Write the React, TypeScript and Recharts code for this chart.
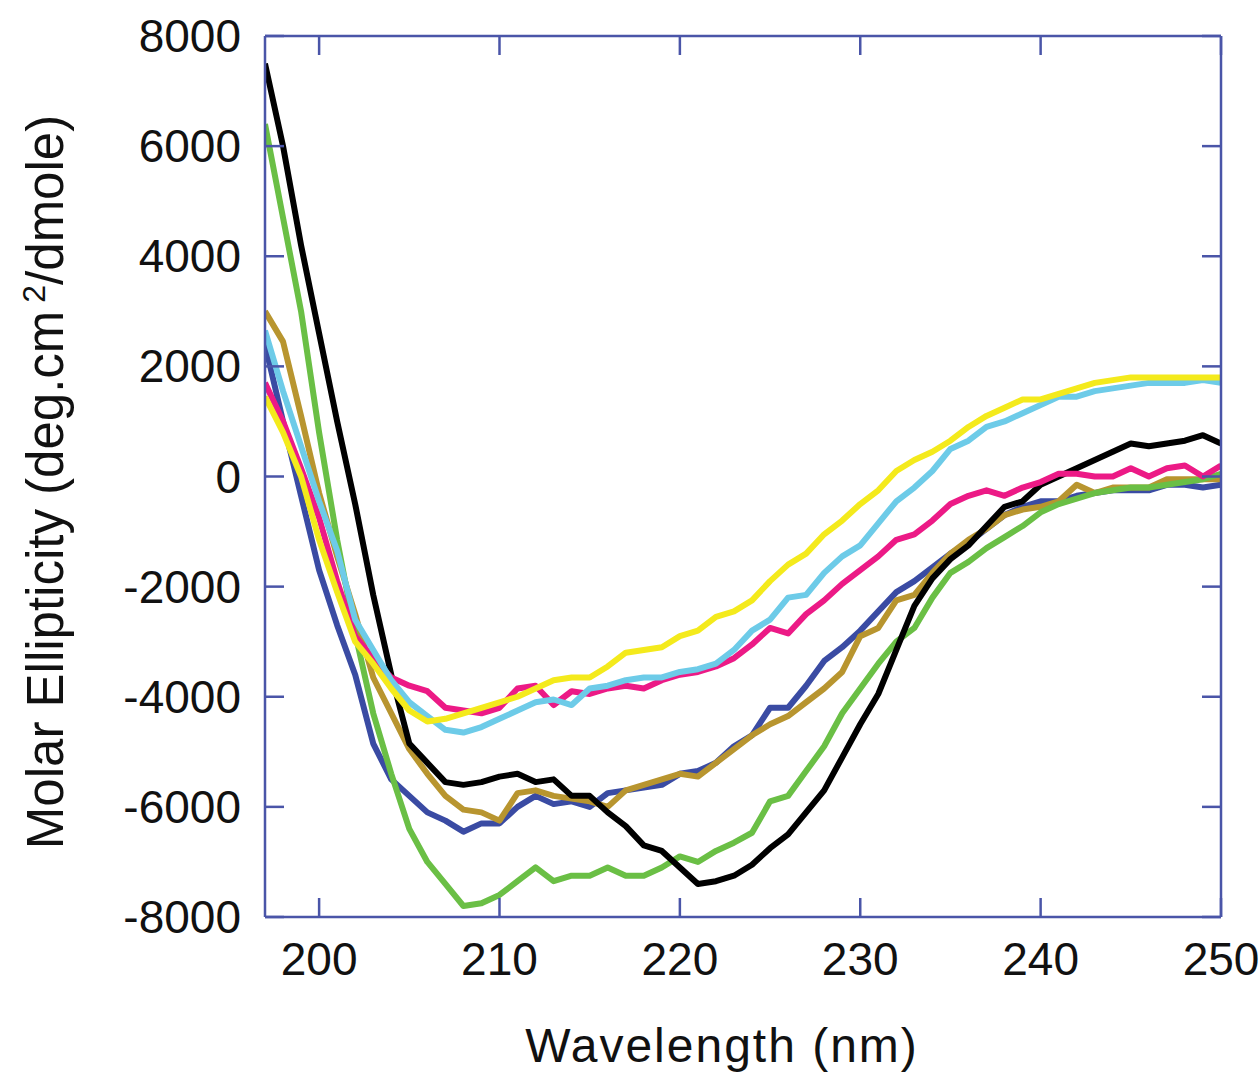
import { LineChart, Line, XAxis, YAxis } from "recharts";

const wavelengths = [
  197, 198, 199, 200, 201, 202, 203, 204, 205, 206, 207, 208, 209, 210, 211, 212, 213, 214,
  215, 216, 217, 218, 219, 220, 221, 222, 223, 224, 225, 226, 227, 228, 229, 230, 231, 232,
  233, 234, 235, 236, 237, 238, 239, 240, 241, 242, 243, 244, 245, 246, 247, 248, 249, 250,
];

const black = [
  7500, 6000, 4200, 2600, 1000, -500, -2150, -3600, -4850, -5200, -5550, -5600, -5550, -5450,
  -5400, -5550, -5500, -5800, -5800, -6100, -6350, -6700, -6800, -7100, -7400, -7350, -7250,
  -7050, -6750, -6500, -6100, -5700, -5100, -4500, -3950, -3150, -2350, -1850, -1500, -1250,
  -900, -550, -450, -150, 0, 150, 300, 450, 600, 550, 600, 650, 750, 600,
];

const green = [
  6400, 4700, 3000, 800, -1150, -2850, -4300, -5400, -6400, -7000, -7400, -7800, -7750, -7600,
  -7350, -7100, -7350, -7250, -7250, -7100, -7250, -7250, -7100, -6900, -7000, -6800, -6650,
  -6470, -5900, -5800, -5350, -4900, -4300, -3850, -3400, -3000, -2750, -2200, -1750, -1550,
  -1300, -1100, -900, -650, -500, -400, -300, -250, -200, -200, -150, -100, -50, 50,
];

const blue = [
  2400, 1000, -350, -1700, -2700, -3600, -4850, -5500, -5800, -6100, -6250, -6450, -6300, -6300,
  -6000, -5800, -5950, -5900, -6000, -5750, -5700, -5650, -5600, -5400, -5350, -5200, -4900,
  -4700, -4200, -4200, -3800, -3350, -3100, -2800, -2450, -2100, -1900, -1650, -1400, -1200,
  -950, -700, -550, -450, -450, -350, -300, -250, -250, -250, -150, -150, -200, -150,
];

const gold = [
  3000, 2450, 1100, -300, -1450, -2500, -3650, -4300, -4950, -5400, -5800, -6050, -6100, -6250,
  -5750, -5700, -5800, -5850, -5900, -6000, -5700, -5600, -5500, -5400, -5450, -5200, -4950,
  -4700, -4500, -4350, -4100, -3850, -3550, -2900, -2750, -2250, -2150, -1750, -1400, -1150,
  -950, -700, -600, -550, -450, -150, -300, -200, -200, -200, -50, -50, -50, -50,
];

const magenta = [
  1700, 1000, 150, -750, -1900, -2900, -3300, -3650, -3800, -3900, -4200, -4250, -4300, -4200,
  -3850, -3800, -4150, -3900, -3950, -3850, -3800, -3850, -3700, -3600, -3550, -3450, -3300,
  -3050, -2750, -2850, -2500, -2250, -1950, -1700, -1450, -1150, -1050, -800, -500, -350, -250,
  -350, -200, -100, 50, 50, 0, 0, 150, 0, 150, 200, 0, 200,
];

const cyan = [
  2650, 1550, 550, -450, -1350, -2600, -3150, -3700, -4100, -4350, -4600, -4650, -4550, -4400,
  -4250, -4100, -4050, -4150, -3850, -3800, -3700, -3650, -3650, -3550, -3500, -3400, -3150,
  -2800, -2600, -2200, -2150, -1750, -1450, -1250, -850, -450, -200, 100, 500, 650, 900, 1000,
  1150, 1300, 1450, 1450, 1550, 1600, 1650, 1700, 1700, 1700, 1750, 1700,
];

const yellow = [
  1450, 800, 0, -1150, -2100, -3000, -3400, -3850, -4250, -4450, -4400, -4300, -4200, -4100,
  -4000, -3850, -3700, -3650, -3650, -3450, -3200, -3150, -3100, -2900, -2800, -2550, -2450,
  -2250, -1900, -1600, -1400, -1050, -800, -500, -250, 100, 300, 450, 650, 900, 1100, 1250,
  1400, 1400, 1500, 1600, 1700, 1750, 1800, 1800, 1800, 1800, 1800, 1800,
];

const xTicks = [200, 210, 220, 230, 240, 250];
const yTicks = [-8000, -6000, -4000, -2000, 0, 2000, 4000, 6000, 8000];

const data = wavelengths.map((nm, i) => ({
  nm,
  black: black[i],
  green: green[i],
  blue: blue[i],
  gold: gold[i],
  magenta: magenta[i],
  cyan: cyan[i],
  yellow: yellow[i],
}));

const axisColor = "#4a55a8";
const font = "'Liberation Sans', Arial, sans-serif";
const tickLen = 19;

const LeftTick = (props: any) => {
  const { x, y, payload } = props;
  return (
    <g>
      <line x1={x} y1={y} x2={x + tickLen} y2={y} stroke={axisColor} strokeWidth={2.5} />
      <text
        x={x - 24}
        y={y}
        textAnchor="end"
        dominantBaseline="central"
        fontFamily={font}
        fontSize={46}
        fill="#111"
      >
        {payload.value}
      </text>
    </g>
  );
};

const RightTick = (props: any) => {
  const { x, y } = props;
  return <line x1={x} y1={y} x2={x - tickLen} y2={y} stroke={axisColor} strokeWidth={2.5} />;
};

const BottomTick = (props: any) => {
  const { x, y, payload } = props;
  return (
    <g>
      <line x1={x} y1={y} x2={x} y2={y - tickLen} stroke={axisColor} strokeWidth={2.5} />
      <text
        x={x}
        y={y + 42}
        textAnchor="middle"
        dominantBaseline="central"
        fontFamily={font}
        fontSize={46}
        fill="#111"
      >
        {payload.value}
      </text>
    </g>
  );
};

const TopTick = (props: any) => {
  const { x, y } = props;
  return <line x1={x} y1={y} x2={x} y2={y + tickLen} stroke={axisColor} strokeWidth={2.5} />;
};

const series = [
  { key: "blue", color: "#3a4ba3" },
  { key: "gold", color: "#b8952f" },
  { key: "green", color: "#6abf45" },
  { key: "black", color: "#000000" },
  { key: "magenta", color: "#ec1a86" },
  { key: "cyan", color: "#6dcbe8" },
  { key: "yellow", color: "#f4ea1c" },
];

export default function App() {
  return (
    <div style={{ position: "absolute", left: 0, top: 0, width: 1259, height: 1074, background: "#fff" }}>
      <LineChart
        width={1259}
        height={1074}
        data={data}
        margin={{ top: 35, right: 37, left: 145, bottom: 97 }}
      >
        <XAxis
          dataKey="nm"
          type="number"
          domain={[197, 250]}
          ticks={xTicks}
          height={60}
          tickSize={0}
          tickMargin={0}
          tickLine={false}
          tick={<BottomTick />}
          axisLine={{ stroke: axisColor, strokeWidth: 2.5 }}
          allowDataOverflow
        />
        <XAxis
          xAxisId="top"
          orientation="top"
          dataKey="nm"
          type="number"
          domain={[197, 250]}
          ticks={xTicks}
          height={1}
          tickSize={0}
          tickMargin={0}
          tickLine={false}
          tick={<TopTick />}
          axisLine={{ stroke: axisColor, strokeWidth: 2.5 }}
          allowDataOverflow
        />
        <YAxis
          type="number"
          domain={[-8000, 8000]}
          ticks={yTicks}
          width={120}
          tickSize={0}
          tickMargin={0}
          tickLine={false}
          tick={<LeftTick />}
          axisLine={{ stroke: axisColor, strokeWidth: 2.5 }}
          allowDataOverflow
          interval={0}
        />
        <YAxis
          yAxisId="right"
          orientation="right"
          type="number"
          domain={[-8000, 8000]}
          ticks={yTicks}
          width={1}
          tickSize={0}
          tickMargin={0}
          tickLine={false}
          tick={<RightTick />}
          axisLine={{ stroke: axisColor, strokeWidth: 2.5 }}
          allowDataOverflow
          interval={0}
        />
        {series.map((s) => (
          <Line
            key={s.key}
            type="linear"
            dataKey={s.key}
            stroke={s.color}
            strokeWidth={6}
            strokeLinejoin="round"
            dot={false}
            activeDot={false}
            isAnimationActive={false}
          />
        ))}
      </LineChart>
      <div
        style={{
          position: "absolute",
          left: 45,
          top: 482,
          transform: "translate(-50%, -50%) rotate(-90deg)",
          whiteSpace: "nowrap",
          fontFamily: font,
          fontSize: 51,
          color: "#111",
        }}
      >
        Molar Ellipticity (deg.cm<sup style={{ fontSize: 32, marginLeft: 8 }}>2</sup>/dmole)
      </div>
      <div
        style={{
          position: "absolute",
          left: 722,
          top: 1045,
          transform: "translate(-50%, -50%)",
          whiteSpace: "nowrap",
          fontFamily: font,
          fontSize: 48,
          letterSpacing: 2,
          color: "#111",
        }}
      >
        Wavelength (nm)
      </div>
    </div>
  );
}
